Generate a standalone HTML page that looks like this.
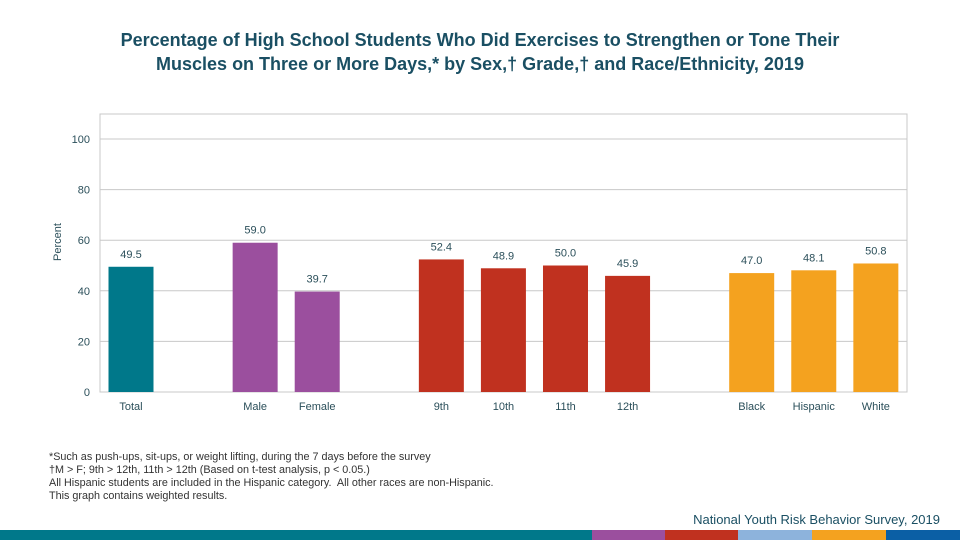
<!DOCTYPE html>
<html><head><meta charset="utf-8"><style>
body{margin:0;width:960px;height:540px;background:#fff;overflow:hidden;font-family:"Liberation Sans",sans-serif;position:relative}
.t{position:absolute;left:0;width:960px;top:28px;text-align:center;font-weight:bold;font-size:18px;color:#1a4f63;line-height:24px}
.fn{position:absolute;left:49px;top:451px;font-size:10.8px;color:#333;line-height:13px}
.src{position:absolute;right:20px;top:512px;font-size:13px;color:#1a4f63}
</style></head><body>
<div class="t">Percentage of High School Students Who Did Exercises to Strengthen or Tone Their<br>Muscles on Three or More Days,* by Sex,† Grade,† and Race/Ethnicity, 2019</div>
<svg id="c" width="960" height="540" style="position:absolute;left:0;top:0"></svg>
<div class="fn">*Such as push-ups, sit-ups, or weight lifting, during the 7 days before the survey<br>†M &gt; F; 9th &gt; 12th, 11th &gt; 12th (Based on t-test analysis, p &lt; 0.05.)<br>All Hispanic students are included in the Hispanic category.&nbsp; All other races are non-Hispanic.<br>This graph contains weighted results.</div>
<div class="src">National Youth Risk Behavior Survey, 2019</div>
<div style="position:absolute;left:0;top:530px;width:960px;height:10px;display:flex">
<div style="width:592px;background:#00788a"></div><div style="width:73px;background:#9b4f9e"></div><div style="width:73px;background:#c0311f"></div><div style="width:74px;background:#8db3dc"></div><div style="width:74px;background:#f4a21f"></div><div style="width:74px;background:#0b5fa5"></div></div>
<script>
const categories=["Total","Male","Female","9th","10th","11th","12th","Black","Hispanic","White"];
const values=[49.5,59.0,39.7,52.4,48.9,50.0,45.9,47.0,48.1,50.8];
const slots=[0,2,3,5,6,7,8,10,11,12];
const groups=["total","sex","sex","grade","grade","grade","grade","race","race","race"];
const yTicks=[0,20,40,60,80,100];
const colors={total:"#00788a",sex:"#9b4f9e",grade:"#c0311f",race:"#f4a21f"};
const svg=document.getElementById('c'),NS="http://www.w3.org/2000/svg";
const L=100,R=907,T=114,B=392;
const y=v=>B-v*2.53;
const xc=i=>131+i*62.07;
function mk(t,a,txt){const e=document.createElementNS(NS,t);for(const k in a)e.setAttribute(k,a[k]);if(txt!=null)e.textContent=txt;svg.appendChild(e);return e;}
const fr=mk('rect',{x:L,y:T,width:R-L,height:B-T,fill:'none',stroke:'#c8c8c8'});


yTicks.forEach(v=>{
 const g=mk('line',{x1:L,x2:R,y1:y(v),y2:y(v),stroke:'#c8c8c8'});
 
 
 const t=mk('text',{x:90,y:y(v)+4,'text-anchor':'end','font-size':11,fill:'#2b4f5a'},v);
 
 
});
const yt=mk('text',{x:0,y:0,transform:'translate(61,242) rotate(-90)','text-anchor':'middle','font-size':11,fill:'#2b4f5a'},'Percent');


categories.forEach((c,i)=>{
 const cx=xc(slots[i]),v=values[i];
 const b=mk('rect',{x:cx-22.5,y:y(v),width:45,height:B-y(v),fill:colors[groups[i]]});
 
 
 const l=mk('text',{x:cx,y:y(v)-9,'text-anchor':'middle','font-size':11,fill:'#2b4f5a'},v.toFixed(1));
 
 
 const xl=mk('text',{x:cx,y:410,'text-anchor':'middle','font-size':11,fill:'#2b4f5a'},c);
 
 
});
</script>
</body></html>
